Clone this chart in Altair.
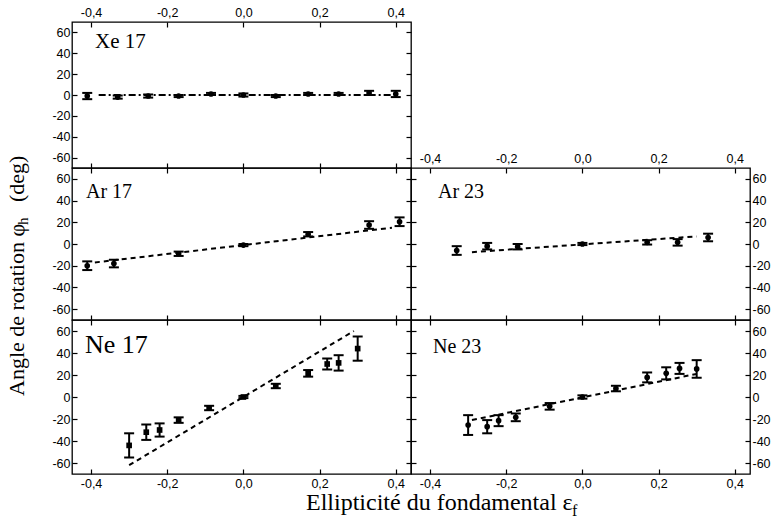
import altair as alt
import pandas as pd

# ---------------- data ----------------
XT = [-0.4, -0.2, 0.0, 0.2, 0.4]
YT = [-60, -40, -20, 0, 20, 40, 60]

# Xe 17
xe_x = [-0.41, -0.33, -0.25, -0.17, -0.085, 0.0, 0.085, 0.17, 0.25, 0.33, 0.40]
xe_y = [-1, -2, -1, -1, 1, 0, -1, 1, 1, 2, 1]
xe_e = [3, 1.5, 1.5, 1, 1, 1.5, 1, 1, 1, 2, 3]
xe_fx = [-0.38, 0.39]
xe_fy = [0, 0]

# Ar 17
ar17_x = [-0.41, -0.34, -0.17, 0.0, 0.17, 0.33, 0.41]
ar17_y = [-20, -18, -9, -1, 9, 17.5, 20.5]
ar17_e = [4, 3.5, 2, 1, 2, 3.5, 4]
ar17_fx = [-0.39, 0.39]
ar17_fy = [-17, 15]

# Ar 23
ar23_x = [-0.33, -0.25, -0.17, 0.0, 0.17, 0.25, 0.33]
ar23_y = [-6, -2, -2.5, 0, 1.5, 1.5, 6]
ar23_e = [4, 3, 2.5, 1, 2, 3, 3.5]
ar23_fx = [-0.29, 0.30]
ar23_fy = [-7.5, 7]

# Ne 17
ne17_x = [-0.30, -0.255, -0.22, -0.17, -0.09, 0.0, 0.085, 0.17, 0.22, 0.25, 0.30]
ne17_y = [-44, -32, -30, -21, -10, 0, 10, 21.5, 30, 31, 44]
ne17_e = [11, 7, 6, 2.5, 2, 1, 2, 3, 5, 7, 11]
ne17_fx = [-0.30, 0.29]
ne17_fy = [-62, 60]

# Ne 23
ne23_x = [-0.30, -0.25, -0.22, -0.175, -0.086, 0.0, 0.088, 0.17, 0.22, 0.255, 0.30]
ne23_y = [-25.5, -27, -21.5, -18.5, -8.5, 0, 7.7, 17.8, 21.5, 26, 25.5]
ne23_e = [9, 6, 5, 3.5, 3, 1.5, 2.5, 4.5, 5.5, 5, 8]
ne23_fx = [-0.29, 0.30]
ne23_fy = [-21, 21]

# ---------------- styling ----------------
X_DOM = [-0.45, 0.44]
Y_DOM = [-70, 70]
XLBL = "(datum.value < -0.001 ? '-' : '') + replace(format(abs(datum.value), '.1f'), '.', ',')"
YLBL = "(datum.value < 0 ? '-' : '') + format(abs(datum.value), 'd')"
SANS = "Liberation Sans"
SERIF = "Liberation Serif"
W = 339


def xaxis(orient, labels):
    return alt.Axis(orient=orient, values=XT, labels=labels, labelExpr=XLBL,
                    title=None, grid=False, domain=False, ticks=True,
                    tickSize={"expr": "-5"}, tickColor="black", tickWidth=1.2,
                    labelFont=SANS, labelFontSize=12.5, labelColor="black",
                    labelPadding=8, labelFlush=False)


def yaxis(orient, labels):
    return alt.Axis(orient=orient, values=YT, labels=labels, labelExpr=YLBL,
                    title=None, grid=False, domain=False, ticks=True,
                    tickSize={"expr": "-5"}, tickColor="black", tickWidth=1.2,
                    labelFont=SANS, labelFontSize=12.5, labelColor="black",
                    labelPadding=7, labelFlush=False)


def text_layer(txt, x, y, size, angle=0, align="left", baseline="alphabetic"):
    return alt.Chart(pd.DataFrame({"a": [0]})).mark_text(
        text=txt, font=SERIF, fontSize=size, color="black", align=align,
        baseline=baseline, angle=angle
    ).encode(x=alt.value(x), y=alt.value(y))


def panel(px, py, pe, fx, fy, dash, label, lsize, lx, ly, h,
          x_lab_orient, x_other_orient, x_labels, y_lab_orient, y_other_orient,
          shape="circle", extra=()):
    df = pd.DataFrame({"x": px, "y": py,
                       "lo": [a - b for a, b in zip(py, pe)],
                       "hi": [a + b for a, b in zip(py, pe)]})
    fit = pd.DataFrame({"x": fx, "y": fy})
    xs = alt.Scale(domain=X_DOM, nice=False, zero=False)
    ys = alt.Scale(domain=Y_DOM, nice=False, zero=False)
    base = alt.Chart(df)
    bars = base.mark_rule(color="black", strokeWidth=2).encode(
        x=alt.X("x:Q", scale=xs, axis=xaxis(x_lab_orient, x_labels)),
        y=alt.Y("lo:Q", scale=ys, axis=yaxis(y_lab_orient, True)),
        y2="hi:Q")
    cap_lo = base.mark_tick(orient="horizontal", size=10, thickness=2, color="black", opacity=1).encode(
        x=alt.X("x:Q", scale=xs, axis=xaxis(x_other_orient, False)),
        y=alt.Y("lo:Q", scale=ys, axis=yaxis(y_other_orient, False)))
    cap_hi = base.mark_tick(orient="horizontal", size=10, thickness=2, color="black", opacity=1).encode(
        x=alt.X("x:Q", scale=xs, axis=None),
        y=alt.Y("hi:Q", scale=ys, axis=None))
    pts = base.mark_point(filled=True, shape=shape, size=32, color="black", opacity=1).encode(
        x=alt.X("x:Q", scale=xs, axis=None),
        y=alt.Y("y:Q", scale=ys, axis=None))
    line = alt.Chart(fit).mark_line(color="black", strokeWidth=2, strokeDash=dash).encode(
        x=alt.X("x:Q", scale=xs, axis=None),
        y=alt.Y("y:Q", scale=ys, axis=None))
    lab = text_layer(label, lx, ly, lsize)
    return alt.layer(bars, cap_lo, cap_hi, pts, line, lab, *extra).resolve_axis(
        x="independent", y="independent").properties(width=W, height=h)


DASH = [5, 4]
DASHDOT = [7, 3, 2, 3]

# axis titles (text layers)
ytitle = [
    text_layer("Angle de rotation \u03c6", -55, 228, 22, angle=270, align="left", baseline="middle"),
    text_layer("h", -49, 57, 15, angle=270, align="left", baseline="middle"),
    text_layer("(deg)", -55, 34, 22, angle=270, align="left", baseline="middle"),
]
xtitle = [
    text_layer("Ellipticit\u00e9 du fondamental \u03b5", 234, 190, 24),
    text_layer("f", 500, 196, 16),
]

xe = panel(xe_x, xe_y, xe_e, xe_fx, xe_fy, DASHDOT, "Xe 17", 21, 23, 26, 146,
           "top", "bottom", True, "left", "right")
blank = alt.Chart(pd.DataFrame({"a": [0]})).mark_point(opacity=0).encode(
    x=alt.value(0), y=alt.value(0)).properties(
    width=W, height=146, view=alt.ViewBackground(strokeOpacity=0))
ar17 = panel(ar17_x, ar17_y, ar17_e, ar17_fx, ar17_fy, DASH, "Ar 17", 20, 14, 30, 152,
             "bottom", "top", False, "left", "right", extra=ytitle)
ar23 = panel(ar23_x, ar23_y, ar23_e, ar23_fx, ar23_fy, DASH, "Ar 23", 20, 27, 30, 152,
             "top", "bottom", True, "right", "left")
ne17 = panel(ne17_x, ne17_y, ne17_e, ne17_fx, ne17_fy, DASH, "Ne 17", 26, 13, 33, 154,
             "bottom", "top", True, "left", "right", shape="square", extra=xtitle)
ne23 = panel(ne23_x, ne23_y, ne23_e, ne23_fx, ne23_fy, DASH, "Ne 23", 20, 22, 33, 154,
             "bottom", "top", True, "right", "left")

chart = alt.concat(xe, blank, ar17, ar23, ne17, ne23, columns=2, spacing=0,
                   bounds="flush").configure_view(
    stroke="black", strokeWidth=1.3).properties(
    padding={"left": 5, "top": 5, "right": 2, "bottom": 5}, background="white")

chart.save("out.html", embed_options={"renderer": "svg", "actions": False})
